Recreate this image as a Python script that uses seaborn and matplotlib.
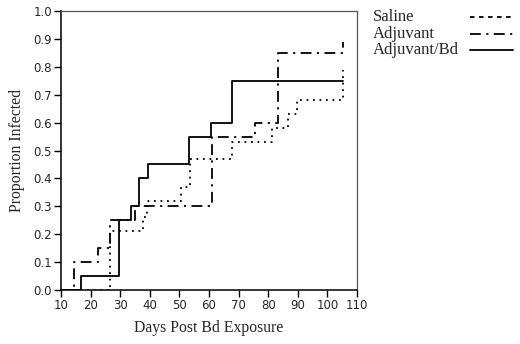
import matplotlib
matplotlib.use("Agg")
import matplotlib.pyplot as plt
import seaborn as sns
import pandas as pd
from matplotlib.lines import Line2D

# Data (Kaplan-Meier style step curves)
saline_days = [10, 26.6, 37.6, 39.2, 50.4, 53.6, 67.7, 81.3, 86.6, 89.6, 105.4]
saline_vals = [0.0, 0.21, 0.26, 0.32, 0.37, 0.47, 0.53, 0.58, 0.63, 0.68, 0.79]

adjuvant_days = [10, 14.4, 22.4, 26.6, 35.0, 60.9, 75.5, 83.3, 105.4]
adjuvant_vals = [0.0, 0.10, 0.15, 0.25, 0.30, 0.55, 0.60, 0.85, 0.89]

adjbd_days = [10, 16.6, 29.6, 33.5, 36.5, 39.5, 53.3, 60.6, 67.7, 105.4]
adjbd_vals = [0.0, 0.05, 0.25, 0.30, 0.40, 0.45, 0.55, 0.60, 0.75, 0.75]

labels = ["Saline", "Adjuvant", "Adjuvant/Bd"]
x_ticks = list(range(10, 111, 10))
y_ticks = [i / 10 for i in range(11)]

sns.set_style("ticks")
plt.rcParams["font.family"] = ["DejaVu Sans"]

fig = plt.figure(figsize=(5.2, 3.44), dpi=100)
ax = fig.add_axes([61 / 520, 1 - 290 / 344, (357 - 61) / 520, (290 - 11) / 344])

styles = {
    "Saline": dict(linestyle=(0, (1.0, 2.6)), linewidth=1.3),
    "Adjuvant": dict(linestyle=(0, (6, 3, 1.2, 3)), linewidth=1.3),
    "Adjuvant/Bd": dict(linestyle="-", linewidth=1.3),
}
series = {
    "Saline": (saline_days, saline_vals),
    "Adjuvant": (adjuvant_days, adjuvant_vals),
    "Adjuvant/Bd": (adjbd_days, adjbd_vals),
}

for name in labels:
    d, v = series[name]
    df = pd.DataFrame({"day": d, "prop": v})
    sns.lineplot(data=df, x="day", y="prop", ax=ax, estimator=None, sort=False,
                 drawstyle="steps-post", color="black", **styles[name])

ax.set_xlim(10, 110)
ax.set_ylim(0, 1.0)
ax.set_xticks(x_ticks)
ax.set_yticks(y_ticks)
ax.set_yticklabels([f"{t:.1f}" for t in y_ticks])
ax.tick_params(axis="both", labelsize=8.5, length=5, width=1, color="black", pad=1.5)

for s in ["left", "bottom"]:
    ax.spines[s].set_color("black")
    ax.spines[s].set_linewidth(1.1)
for s in ["top", "right"]:
    ax.spines[s].set_color("#555555")
    ax.spines[s].set_linewidth(0.9)

serif = ["Liberation Serif", "DejaVu Serif"]
ax.set_xlabel("Days Post Bd Exposure", family=serif, fontsize=11.3, labelpad=6)
ax.set_ylabel("Proportion Infected", family=serif, fontsize=11.3, labelpad=6)

# Legend drawn at the right of the axes
leg_y = [17, 34, 50]
for name, yy in zip(labels, leg_y):
    fig.text(373 / 520, 1 - yy / 344, name, family=serif, fontsize=12,
             va="center", ha="left")
    fig.add_artist(Line2D([470 / 520, 513 / 520], [1 - yy / 344, 1 - yy / 344],
                          transform=fig.transFigure, color="black",
                          **(dict(styles[name]) if name != "Saline"
                             else dict(linestyle=(0, (2.5, 2.5)), linewidth=1.3))))

fig.savefig("out.png", dpi=100)
